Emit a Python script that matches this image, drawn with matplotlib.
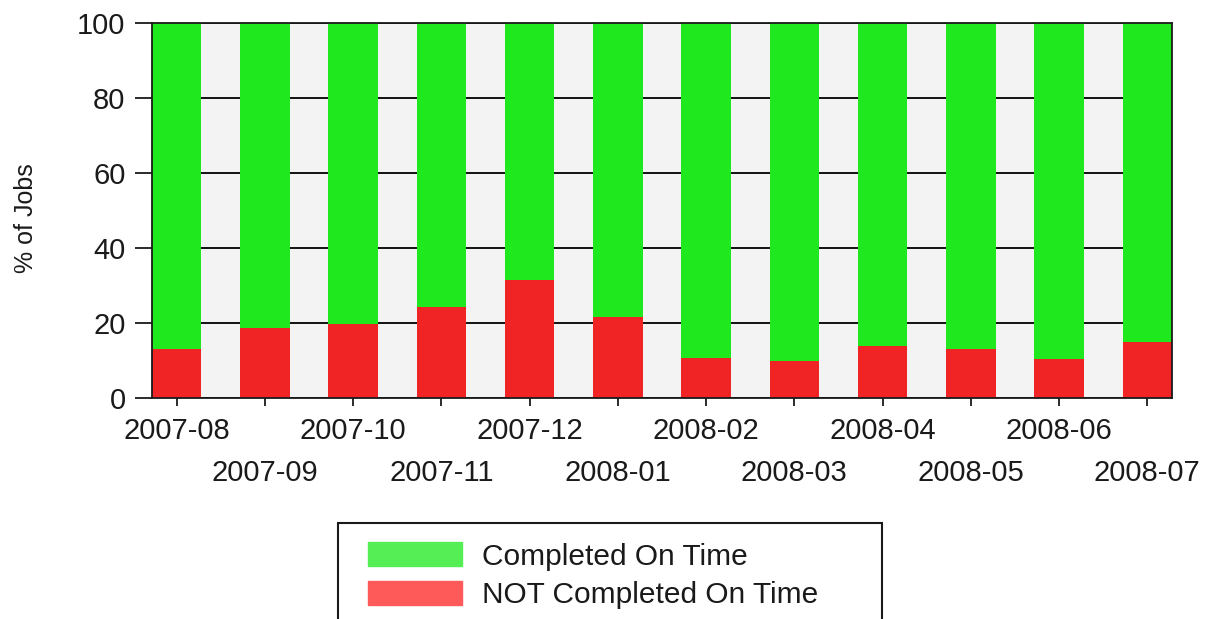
import matplotlib.pyplot as plt
import matplotlib.patches as mpatches
import numpy as np

plt.rcParams['font.family'] = ['Liberation Sans', 'DejaVu Sans']

months = ['2007-08', '2007-09', '2007-10', '2007-11', '2007-12', '2008-01',
          '2008-02', '2008-03', '2008-04', '2008-05', '2008-06', '2008-07']
not_on_time = [13.1, 18.7, 19.8, 24.4, 31.5, 21.6, 10.7, 9.9, 13.9, 13.2, 10.4, 15.0]
on_time = [100 - v for v in not_on_time]

green = '#1fe81f'
red = '#f02424'

fig = plt.figure(figsize=(12.1, 6.19), dpi=100)
ax = fig.add_axes([152 / 1210, 1 - 398 / 619, (1172 - 152) / 1210, (398 - 23) / 619])
ax.set_facecolor('#f3f3f3')

x = np.arange(len(months))
w = 0.56
ax.bar(x, not_on_time, width=w, color=red, zorder=2)
ax.bar(x, on_time, width=w, bottom=not_on_time, color=green, zorder=2)

ax.set_xlim(-w / 2, len(months) - 1 + w / 2)
ax.set_ylim(0, 100)
ax.set_yticks([0, 20, 40, 60, 80, 100])
ax.yaxis.grid(True, color='black', linewidth=1.3, zorder=1)
ax.set_axisbelow(True)

# alternate labels on two rows: even months as major ticks, odd as minor
ax.set_xticks(x[::2])
ax.set_xticklabels(months[::2])
ax.set_xticks(x[1::2], minor=True)
ax.set_xticklabels(months[1::2], minor=True)
ax.tick_params(axis='x', which='both', direction='out', length=6, width=1.3,
               labelsize=21, colors='#1a1a1a')
ax.tick_params(axis='x', which='major', pad=8)
ax.tick_params(axis='x', which='minor', pad=38)
ax.tick_params(axis='y', direction='out', length=12, width=1.3, labelsize=21,
               pad=7, colors='#1a1a1a')

for s in ax.spines.values():
    s.set_color('#1a1a1a')
    s.set_linewidth(1.3)
    s.set_zorder(3)

fig.text(26 / 1210, 1 - 218 / 619, '% of Jobs', rotation=90, fontsize=18,
         ha='center', va='center', color='#1a1a1a')

# legend box runs off the bottom of the image, so draw the frame separately
fig.patches.append(mpatches.Rectangle((338 / 1210, -0.05), 544 / 1210, 0.05 + 96 / 619,
                                      transform=fig.transFigure, fill=False,
                                      edgecolor='#1a1a1a', linewidth=1.5))

handles = [mpatches.Patch(color='#55ee55', label='Completed On Time'),
           mpatches.Patch(color='#ff5a5a', label='NOT Completed On Time')]
leg = fig.legend(handles=handles, loc='upper left',
                 bbox_to_anchor=(349 / 1210, 1 - 523 / 619),
                 borderaxespad=0, fontsize=21.5, frameon=False,
                 handlelength=3.15, handleheight=0.85, handletextpad=0.65,
                 borderpad=0.65, labelspacing=0.35)
for t in leg.get_texts():
    t.set_color('#1a1a1a')

fig.savefig('out.png', dpi=100)
